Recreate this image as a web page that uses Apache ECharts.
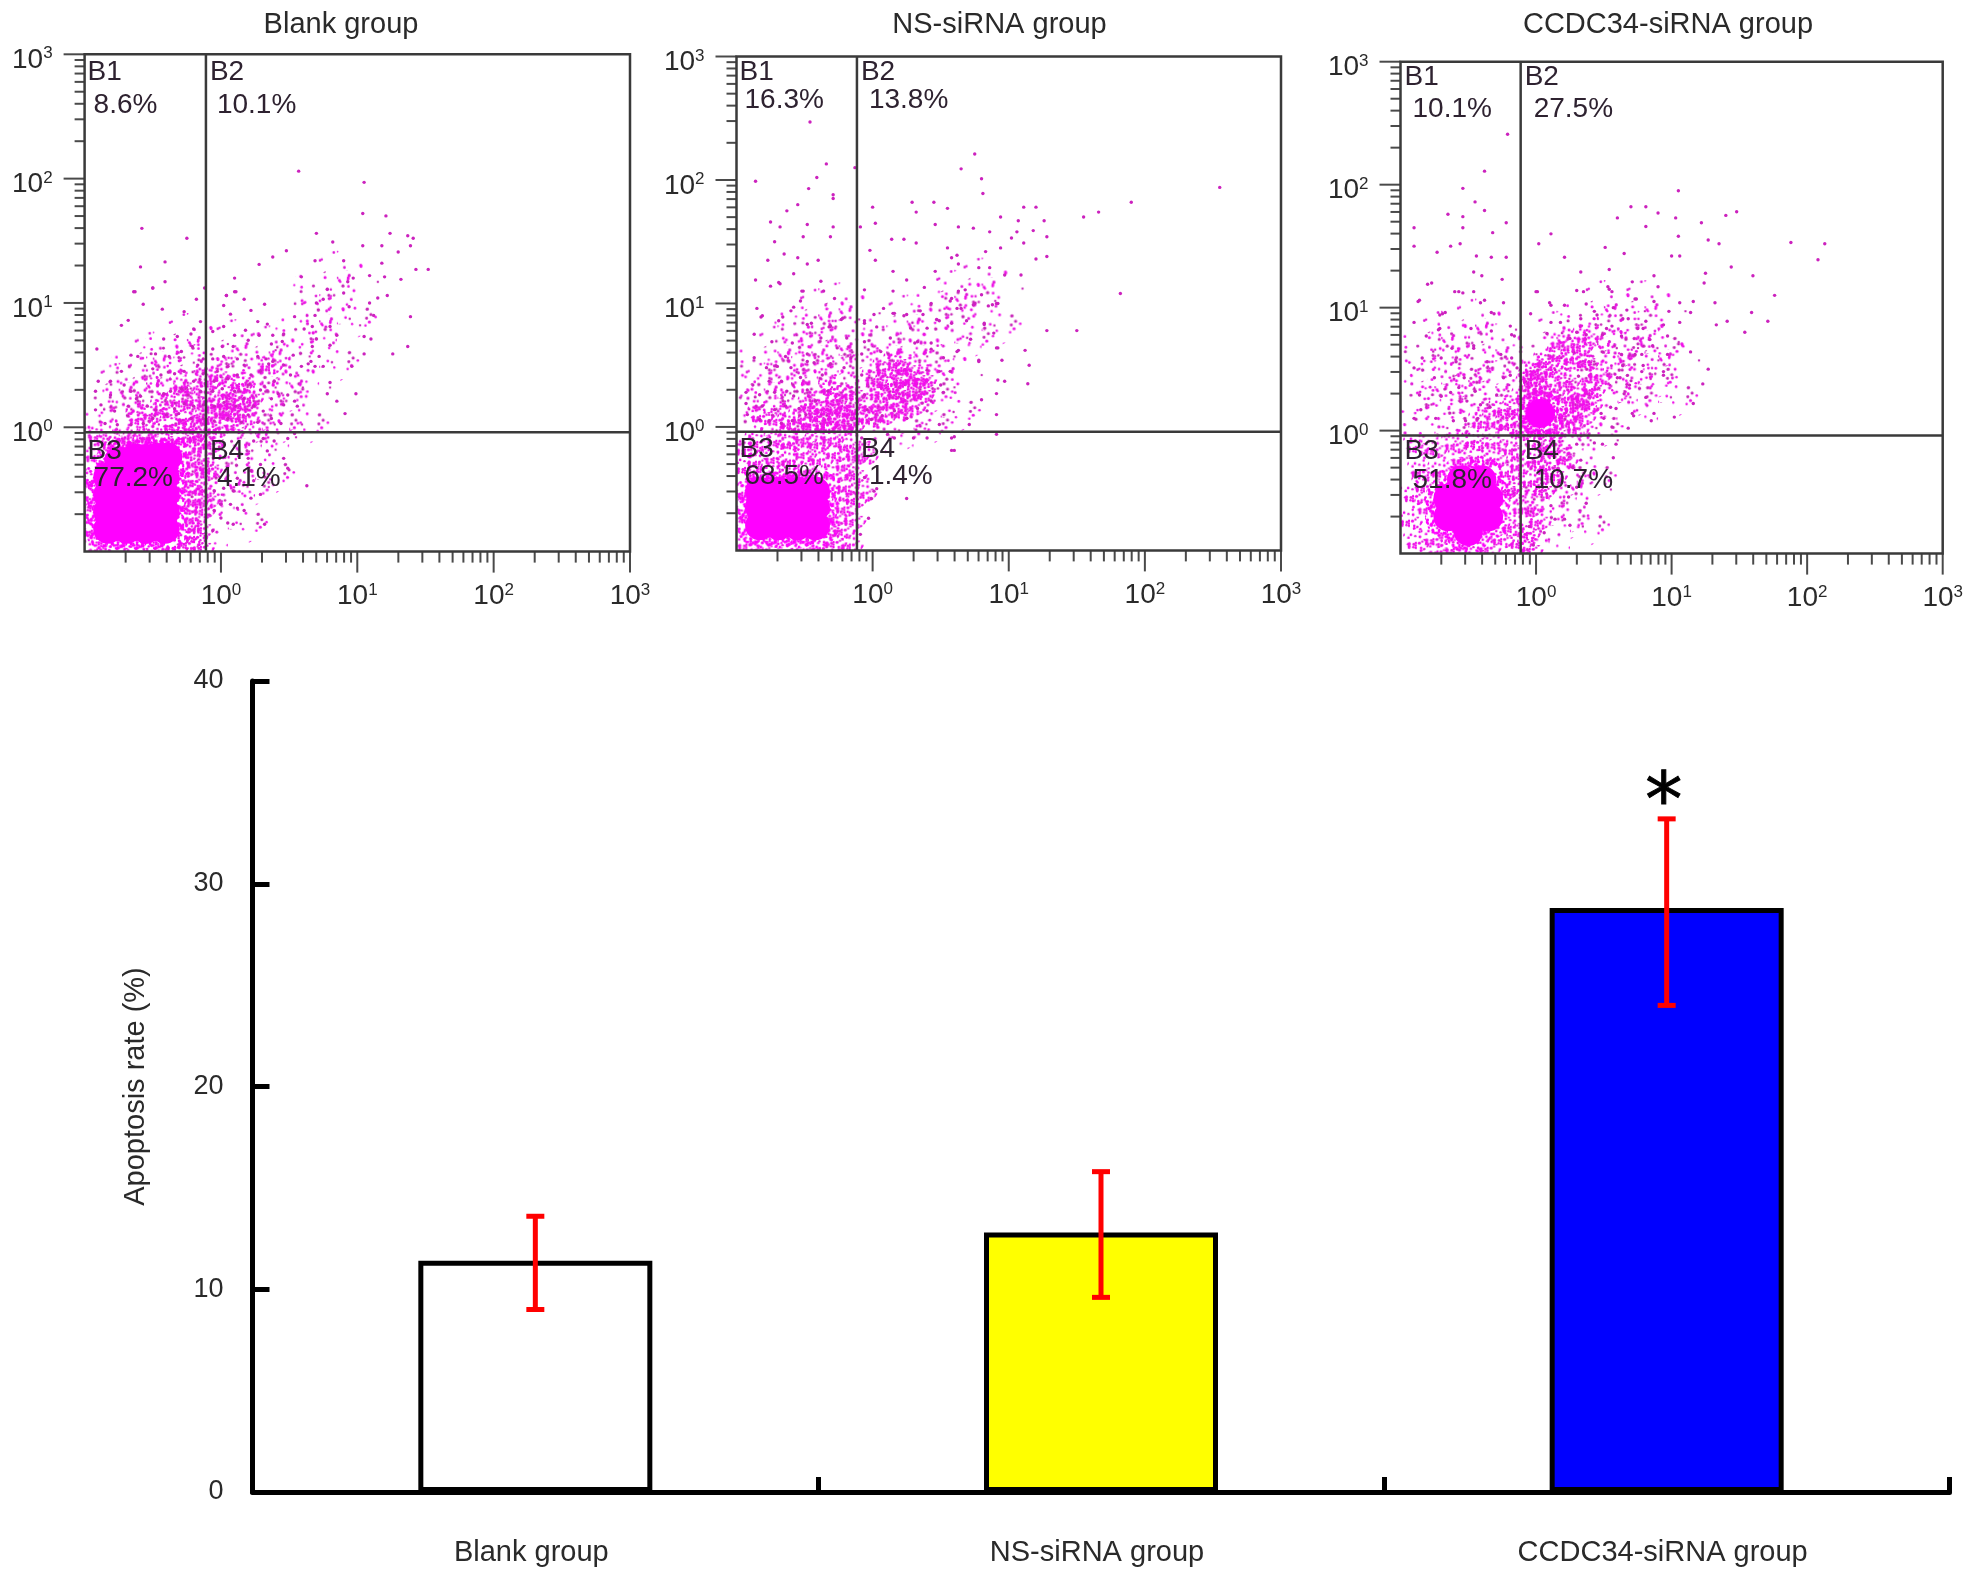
<!DOCTYPE html>
<html><head><meta charset="utf-8">
<style>html,body{margin:0;padding:0;background:#fff}#c{width:1976px;height:1579px}</style>
<script src="https://cdn.jsdelivr.net/npm/echarts@6/dist/echarts.min.js"></script>
</head><body><div id="c"></div>
<script>
// ---------- bar chart data ----------
const barCategories = ['Blank group', 'NS-siRNA group', 'CCDC34-siRNA group'];
const barValues = [11.4, 12.8, 28.8];
const errorLow = [9.0, 9.6, 24.0];
const errorHigh = [13.6, 15.8, 33.2];
const barColors = ['#ffffff', '#ffff00', '#0000ff'];
const barFlags = ['', '', '*'];
const barTicks = [0, 10, 20, 30, 40];

// ---------- flow cytometry panels ----------
const panelTitles = ['Blank group', 'NS-siRNA group', 'CCDC34-siRNA group'];
const quadrantNames = ['B1', 'B2', 'B3', 'B4'];
const blankPercents = ['8.6%', '10.1%', '77.2%', '4.1%'];
const nsPercents = ['16.3%', '13.8%', '68.5%', '1.4%'];
const ccdcPercents = ['10.1%', '27.5%', '51.8%', '10.7%'];
const gateBlank = [0.776, 0.914];
const gateNs = [0.767, 0.912];
const gateCcdc = [0.77, 0.914];
const majorTicks = [1, 10, 100, 1000];
const minorDecades = [0.1, 1, 10, 100];
const minorMultiples = [2, 3, 4, 5, 6, 7, 8, 9];

// positions, as log10 of (FITC, PI): [x, y]
// Core = saturated centres; Dense = heavily populated spots; Haze = moderately populated zones; Sparse = single events
const blankCoreLog = [[-.83,-.82],[-.69,-.82],[-.55,-.82],[-.41,-.82],[-.83,-.68],[-.69,-.68],[-.55,-.68],[-.41,-.68],[-.83,-.54],[-.69,-.54],[-.55,-.54],[-.41,-.54],[-.83,-.4],[-.69,-.4],[-.55,-.4],[-.41,-.4],[-.75,-.27],[-.62,-.25],[-.5,-.25],[-.39,-.24]];
const blankHazeLog = [[-.75,.15],[-.55,.2],[-.35,.2],[-.2,.3],[-.5,.4],[-.25,.55],[.1,.2],[.3,.2],[.1,.5],[.35,.45],[.5,.2],[.1,-.3],[.25,-.2],[.05,-.6],[.72,.7],[.85,1.05]];
const blankDenseLog = [[-.25,-.9],[-.19,-.85],[-.14,-.93],[-.27,-.75],[-.2,-.7],[-.14,-.78],[-.26,-.6],[-.18,-.55],[-.13,-.63],[-.26,-.45],[-.2,-.4],[-.13,-.47],[-.27,-.3],[-.18,-.25],[-.12,-.33],[-.25,-.17],[-.14,-.13],[-.3,-.06],[-.22,-.05],[-.14,-.04],[-.42,-.07],[-.52,-.05],[-.62,-.08],[-.7,-.06],[-.8,-.1],[-.9,-.04],[-.92,-.2],[-.94,-.4],[-.95,-.6],[-.94,-.8],[-.9,-.95],[-.75,-.97],[-.6,-.97],[-.45,-.96],[-.33,-.93],[-.7,-.14],[-.55,-.12],[-.1,-.55],[-.08,-.3],[-.07,-.1],[-.09,.1],[-.1,.25],[-.09,.4],[-.03,.02],[-.04,.2],[.02,.15],[.07,.3],[-.02,.45],[.1,.05],[.14,.38],[.05,.22],[-.25,.1],[-.35,.05],[-.42,.18],[-.2,.25],[-.3,.24],[-.15,.12],[-.5,.14],[-.6,.1],[-.28,.36],[-.2,.02],[.15,.22],[.22,.27],[.19,.12],[.08,.14],[.36,.53]];
const blankSparseLog = [[.57,2.06],[1.05,1.97],[1.04,1.72],[1.21,1.7],[-.58,1.6],[-.25,1.52],[.7,1.56],[.82,1.49],[.48,1.42],[.38,1.37],[.28,1.31],[1.04,1.46],[1.18,1.46],[1.3,1.41],[1.39,1.46],[1.37,1.54],[1.41,1.52],[1.24,1.56],[1.18,1.32],[1.43,1.27],[1.52,1.27],[1.32,1.19],[1.2,1.21],[1.09,1.22],[.97,1.2],[.9,1.34],[.69,1.34],[.59,1.21],[.1,1.2],[-.41,1.33],[-.59,1.29],[-.41,1.17],[-.5,1.12],[-.64,1.09],[-.12,1.12],[.04,1.06],[.1,1.09],[.78,1.11],[.75,1.03],[.7,1],[.9,1.08],[.94,.97],[.93,1.17],[1.09,1],[1.15,1.04],[1.22,1.06],[1.39,.89],[1.12,.9],[1.37,.65],[1.26,.59],[1.05,.73],[1.1,.71],[.69,.9],[.67,.81],[.7,.71],[.67,.65],[.72,.57],[.64,.51],[.75,.49],[.69,.49],[.8,.81],[.85,.74],[.8,.66],[.85,.21],[.91,.11],[.78,.27],[.8,.36],[.99,.27],[1.05,.59],[.96,.49],
[-.63,1.09],[-.57,.99],[-.5,1.12],[-.43,.95],[-.27,.93],[-.18,1.03],[-.73,.82],[-.68,.86],[-.91,.63],[-.66,.58],[-.61,.57],[-.48,.59],[-.38,.57],[-.29,.61],[-.2,.79],[-.15,.85],[-.22,.75],[-.32,.73],[-.42,.71],[-.73,.45],[-.81,.37],[-.9,.37],[-.92,.29],[-.81,.26],[-.71,.34],[-.66,.29],[-.59,.25],[-.5,.47],[-.44,.42],[-.34,.43],[-.27,.45],[-.17,.5],[-.13,.55],[-.13,.43],[-.21,.65],[-.88,.18],[-.92,.14],[-.78,.13],[-.68,.17],[-.62,.23],[-.54,.17],[-.48,.14],[-.42,.27],[-.37,.29],[-.29,.31],[-.24,.26],[-.2,.37],[-.15,.29],[-.34,.15],[-.27,.19],[-.2,.17],[-.13,.18],[-.4,.1],[-.31,.11],[-.22,.07],[-.13,.07],[-.5,.07],[-.57,.03],[-.66,.02],[-.76,.02],[-.85,.03],
[.04,1.06],[.11,1.09],[.02,.98],[.07,.91],[.17,1.03],[.22,.94],[.32,.99],[-.06,.77],[.02,.81],[.1,.74],[.18,.78],[.27,.85],[.34,.83],[.28,.74],[.38,.74],[.46,.75],[.54,.89],[.61,.79],[.45,.69],[.37,.67],[.2,.7],[.01,.65],[.09,.65],[-.06,.63],[-.06,.55],[.02,.57],[.12,.55],[.27,.57],[.33,.55],[.35,.51],[.38,.53],[.46,.5],[.53,.58],[.59,.49],[.05,.49],[.17,.5],[.22,.42],[.29,.45],[.39,.37],[.51,.42],[.66,.53],[.42,.27],[.49,.26],[.54,.21],[.56,.17],[.46,.18],[.37,.23],[.29,.3],[.2,.34],[.12,.42],[.05,.39],[-.05,.37],[-.06,.29],[.01,.31],[.1,.29],[.17,.23],[.24,.17],[.31,.13],[.37,.07],[.44,.03],[.2,.1],[.11,.17],[.05,.07],[-.05,.17],[-.05,.05],[.27,.04],[.15,.04],
[.31,-.09],[.39,-.11],[.49,-.09],[.54,-.05],[.46,-.25],[.34,-.19],[.24,-.11],[.2,-.25],[.29,-.3],[.22,-.35],[.24,-.43],[.12,-.41],[.02,-.49],[-.05,-.51],[.07,-.62],[.12,-.65],[.22,-.57],[.29,-.54],[.63,-.47],[.05,-.77],[.09,-.78],[.32,-.78],[-.05,-.67],[0,-.73],[-.06,-.83],[.49,-.33],[0,-.62],[.17,-.67],[-.01,-.25],[.09,-.51]];

const nsCoreLog = [[-.83,-.8],[-.69,-.8],[-.55,-.8],[-.42,-.8],[-.83,-.65],[-.69,-.65],[-.55,-.65],[-.42,-.65],[-.83,-.52],[-.69,-.52],[-.55,-.52],[-.42,-.52]];
const nsHazeLog = [[-.8,.15],[-.6,.2],[-.4,.2],[-.2,.2],[-.7,.45],[-.45,.45],[-.25,.5],[-.4,.75],[-.25,.8],[.1,.15],[.3,.2],[.1,.45],[.3,.45],[.5,.3],[.25,.7],[.6,.9],[.8,1]];
const nsDenseLog = [[-.3,.1],[-.25,.18],[-.2,.08],[-.28,.25],[-.18,.2],[-.15,.05],[-.14,.3],[-.35,.05],[-.4,.12],[-.45,.05],[-.52,.1],[-.6,.06],[-.7,.09],[-.35,.18],[-.23,.03],[-.13,.14],[-.45,.2],[-.3,.34],[-.82,.12],[.23,.4],[.28,.32],[.18,.3],[.25,.5],[.32,.42],[.12,.38],[.16,.22],[.05,.3],[0,.2],[.08,.12],[.2,.15],[.3,.2],[.36,.3],[.1,.5],[.02,.42],[-.02,.1],[.18,.55],[.38,.42],[-.28,-.9],[-.22,-.8],[-.16,-.92],[-.28,-.7],[-.2,-.62],[-.14,-.72],[-.27,-.5],[-.19,-.45],[-.13,-.55],[-.28,-.35],[-.2,-.28],[-.13,-.35],[-.27,-.18],[-.18,-.12],[-.12,-.2],[-.3,-.06],[-.4,-.1],[-.38,-.23],[-.5,-.06],[-.5,-.18],[-.48,-.32],[-.6,-.1],[-.6,-.24],[-.6,-.36],[-.7,-.08],[-.72,-.22],[-.72,-.34],[-.84,-.09],[-.85,-.25],[-.86,-.38],[-.93,-.15],[-.93,-.3],[-.95,-.5],[-.95,-.7],[-.92,-.92],[-.8,-.96],[-.65,-.98],[-.5,-.96],[-.38,-.95],[-.34,-.8],[-.05,-.2],[-.06,-.5]];
const nsSparseLog = [[2.55,1.94],[1.9,1.82],[1.55,1.7],[1.66,1.74],[1.82,1.08],[1.28,.78],[1.5,.78],[.75,2.21],[.65,2.09],[.8,2.01],[.81,1.89],[-.46,2.47],[-.34,2.13],[-.13,2.1],[-.86,1.99],[-.41,2.02],[-.47,1.93],[-.29,1.88],[-.29,1.85],[-.55,1.8],[-.63,1.75],[-.75,1.66],[-.68,1.62],[-.48,1.64],[-.29,1.62],[-.09,1.62],[-.31,1.54],[-.51,1.54],[.29,1.82],[.32,1.74],[.45,1.82],[.55,1.77],[.46,1.64],[0,1.78],[.02,1.65],[.14,1.52],[.23,1.52],[-.02,1.43],[.32,1.49],[.63,1.62],[.74,1.61],[.94,1.7],[1.07,1.67],[1.11,1.78],[1.2,1.78],[1.26,1.67],[1.28,1.54],[1.18,1.59],[1.06,1.58],[.86,1.58],[1.02,1.53],[1.11,1.49],[.94,1.45],[.83,1.42],[.55,1.45],[.62,1.39],[1.28,1.38],[1.2,1.36],[1.09,1.23],[.97,1.23],[.86,1.29],[.78,1.29],[.63,1.32],[.58,1.37],[.15,1.26],[.02,1.35],[.25,1.19],[.38,1.13],[.15,1.1],[-.06,1.11],[.46,1.26],
[.63,1.1],[.68,1.11],[.58,1.04],[.75,1],[.88,.99],[.92,1],[.65,.96],[.8,1.07],[.82,.83],[.89,.76],[.49,.86],[.37,.91],[.25,.91],[.15,.92],[.03,.81],[-.06,.84],[.58,.84],[.43,1],[.92,.64],[.78,.54],[.95,.54],[1.12,.62],[1.15,.5],[1.14,.35],[.92,.38],[.97,.37],[.8,.22],[.91,.1],[.91,.27],[.63,.62],[.43,.68],[.31,.68],[.71,.02],[.6,-.08],[.6,-.19],[.91,-.06],
[-.86,1.19],[-.77,1.35],[-.72,1.5],[-.65,1.4],[-.55,1.37],[-.48,1.32],[-.4,1.35],[-.58,1.24],[-.38,1.18],[-.51,1.1],[-.68,1.16],[-.75,1.14],[-.85,.96],[-.82,.89],[-.66,.89],[-.58,.97],[-.36,1.1],[-.48,.83],[-.32,.81],[-.22,.88],[-.28,1.04],
[-.52,1.1],[-.53,1.02],[-.69,1.17],[-.81,.9],[-.69,.86],[-.6,.94],[-.45,.84],[-.23,.87],[-.31,.82],[-.38,.72],[-.59,.68],[-.48,.59],[-.48,.53],[-.64,.57],[-.87,.75],[-.74,.69],[-.87,.56],[-.78,.48],[-.7,.49],[-.6,.48],[-.43,.52],[-.26,.64],[-.19,.72],[-.16,.56],[-.21,.48],[-.31,.51],[-.37,.42],[-.53,.4],[-.67,.37],[-.76,.37],[-.88,.34],[-.93,.28],[-.83,.26],[-.72,.28],[-.63,.29],[-.58,.25],[-.48,.3],[-.42,.21],[-.33,.29],[-.93,.19],[-.81,.17],[-.72,.14],[-.64,.17],[-.54,.15],[-.49,.1],[-.92,.1],[-.83,.06],[-.76,.05],[-.67,.03],[-.59,.05],
[-.06,.86],[.01,.91],[.08,.96],[.16,.92],[.23,.9],[.35,.94],[.47,.87],[.57,1.02],[.62,.96],[.74,.99],[.85,.98],[.91,1],[.82,.84],[.69,.86],[.62,.61],[.72,.71],[.91,.64],[.78,.53],[.52,.56],[.49,.45],[.4,.46],[.57,.45],[.5,.34],[.52,.28],[.43,.21],[.4,.13],[.33,.15],[.25,.07],[.49,.02],[.07,.09],[-.01,.06],[.16,.13],[-.04,.14],[-.06,.26],[-.08,.42],[-.08,.59],[-.06,.69],[.06,.61],[.13,.72],[.28,.8],[.4,.8],[.33,.69],[.43,.63],
[.11,-.06],[.16,-.09],[.3,-.09],[.4,-.09],[.58,-.09],[.58,-.19],[.01,-.52],[-.01,-.58],[.03,-.5],[-.03,-.74],[-.09,-.87],[.25,-.58],[-.06,-.41],[-.08,-.09]];

const ccdcCoreLog = [[-.65,-.7],[-.5,-.7],[-.35,-.7],[-.65,-.55],[-.5,-.55],[-.35,-.55],[-.55,-.4],[-.4,-.4],[-.5,-.82],[.03,.14]];
const ccdcHazeLog = [[-.75,.2],[-.5,.25],[-.3,.2],[-.7,.6],[-.45,.7],[-.3,.5],[.15,.6],[.45,.55],[.35,.2],[.6,.45],[.75,.6],[.5,.85],[.8,.85],[.9,.45],[.1,-.2],[.3,-.2],[.1,-.55],[.25,-.6]];
const ccdcDenseLog = [[.08,.59],[.18,.64],[.28,.62],[.37,.59],[.46,.48],[.42,.37],[.33,.27],[.23,.43],[.13,.51],[.33,.72],[.18,.75],[.37,.79],[-.15,.2],[-.1,.1],[-.2,.08],[-.08,.3],[-.25,.2],[-.3,.1],[-.12,.02],[-.4,.1],[-.05,.4],[-.01,.52],[.02,.5],[-.03,.46],[.08,.28],[.14,.2],[.2,.15],[.25,.1],[.16,.05],[.28,.22],[.22,.3],[.12,.35],[.05,.38],[.3,.05],[.35,.15],[.32,.32],[.4,.25],[.01,.34],[-.04,.25],[0,.03],[.08,.03],[-.85,-.3],[-.9,-.5],[-.93,-.7],[-.88,-.88],[-.75,-.85],[-.8,-.6],[-.82,-.42],[-.7,-.3],[-.55,-.2],[-.42,-.18],[-.3,-.2],[-.2,-.3],[-.12,-.25],[-.17,-.12],[-.3,-.07],[-.45,-.06],[-.6,-.08],[-.15,-.45],[-.1,-.6],[-.18,-.75],[-.12,-.88],[-.25,-.85],[-.35,-.92],[-.45,-.97],[-.6,-.93],[-.72,-.95],[-.88,-.1],[-.75,-.12],[-.22,-.45],[0,-.08],[.08,-.1],[.15,-.14],[.22,-.2],[0,-.22],[.08,-.28],[.14,-.33],[-.03,-.38],[.05,-.45],[-.05,-.6],[.02,-.7],[-.06,-.8],[-.04,-.93]];
const ccdcSparseLog = [[-.21,2.41],[-.38,2.11],[-.54,1.97],[-.9,1.65],[-.65,1.76],[-.54,1.74],[-.45,1.86],[-.38,1.79],[-.54,1.65],[-.32,1.61],[-.22,1.69],[-.63,1.5],[-.56,1.52],[-.73,1.45],[-.9,1.5],[-.44,1.42],[-.33,1.41],[-.77,1.2],[-.46,1.29],[-.4,1.26],[-.25,1.23],[-.22,1.41],[-.87,1.05],[-.6,1.13],[-.54,1.12],[-.71,.94],[-.67,.96],[-.71,.83],[-.33,.96],[-.48,.83],[-.19,.85],[-.9,.88],[-.81,.77],[-.46,.69],[-.62,.67],[-.16,.77],[-.33,.81],[-.41,1.04],[-.24,1.04],
[1.05,1.95],[.81,1.82],[.7,1.82],[.9,1.77],[1.03,1.73],[.6,1.73],[1.48,1.78],[1.4,1.75],[1.22,1.69],[1.35,1.52],[1.27,1.55],[1.05,1.58],[.81,1.66],[1.88,1.53],[2.13,1.52],[2.08,1.39],[1.76,1.1],[1.71,.89],[1.59,.96],[1.54,.8],[1.41,.89],[1.33,.86],[1.44,1.33],[1.6,1.26],[1.32,1.04],[1.24,1.2],[1.25,1.28],[1.27,.5],[1.23,.38],[1.16,.22],[1.02,.11],[.87,.14],
[.02,1.52],[.11,1.6],[.21,1.41],[.33,1.29],[.51,1.49],[.65,1.44],[.54,1.31],[.54,1.15],[.35,1.13],[.71,1.21],[.87,1.26],[1.06,1.42],[1,1.42],[0,1.13],[.1,1.04],[.21,1.02],[.33,.91],[.43,.97],[.56,1.13],[.73,1.07],[.9,1.17],[1.06,1.04],[1.16,1.05],[.98,.97],[.81,.89],[.68,.91],[.56,.85],[.3,.8],[.11,.88],[1.14,.96],[1.06,.88],[.97,.77],[.86,.69],[.75,.83],[.63,.77],[.49,.78],[.37,.78],[.97,.62],[.78,.62],[.63,.62],[1.14,.64],[.94,.48],[.78,.48],[.62,.43],[.71,.14],[.59,.18],[.48,.14],[.81,.27],[.65,.3],[.68,.02],[.56,.03],
[.59,-.11],[.57,-.22],[.43,-.1],[.33,-.24],[.37,-.59],[.24,-.54],[.25,-.77],[.14,-.72],[.06,-.83],[.21,-.72],[.17,-.42],[.3,-.46],[.49,-.11],[.3,-.11],[.27,-.3],[.11,-.61],[.05,-.46],[-.05,-.78],[-.02,-.93],
[-.8,1.19],[-.86,1.06],[-.69,.95],[-.72,.82],[-.57,1.13],[-.46,1.13],[-.31,.95],[-.38,1.06],[-.18,.78],[-.46,.67],[-.84,.59],[-.7,.59],[-.59,.56],[-.9,.51],[-.75,.43],[-.57,.35],[-.86,.29],[-.7,.28],[-.85,.17],[-.74,.1],[-.9,.1],[-.63,.31],[-.53,.43],[-.36,.56],[-.26,.62],[-.18,.59],[-.45,.32],[-.51,.24],[-.41,.21],[-.61,.08],[-.52,.08],[-.43,.1],[-.34,.19],[-.29,.29],[-.19,.45],[-.14,.51],[-.24,.43],
[.01,1.13],[.11,1.02],[.3,1.14],[.37,1.03],[.53,1.17],[-.04,.95],[.18,.88],[.45,.94],[.57,1],[.67,.98],[.74,1.07],[.87,1.05],[.94,.86],[.64,.91],[.79,.83],[.84,.74],[.73,.62],[.64,.53],[.79,.53],[.94,.45],[.69,.37],[.55,.19],[.72,.12],[.85,.08],[.5,.1],[.6,.43],[.52,.83],[.08,.79],[.25,.75]];

// ---------- layout & styling ----------
const FONT = '"Liberation Sans", Arial, sans-serif';
const TEXT = '#2a2a2a';
const panels = [
  {box:[84.6,54.3,545.4,497.3], titleX:336, title:panelTitles[0], core:blankCoreLog, haze:blankHazeLog, dense:blankDenseLog, sparse:blankSparseLog, gate:gateBlank, pct:blankPercents, off:{nameX:3,pctX:9,pctX2:11,top1:18,top2:51,low1:19,low2:46}},
  {box:[736.5,56.5,544.5,493.9], titleX:994.5, title:panelTitles[1], core:nsCoreLog, haze:nsHazeLog, dense:nsDenseLog, sparse:nsSparseLog, gate:gateNs, pct:nsPercents, off:{nameX:3,pctX:8,pctX2:12,top1:16,top2:44,low1:17,low2:44}},
  {box:[1400.5,61.7,542.2,491.9], titleX:1663, title:panelTitles[2], core:ccdcCoreLog, haze:ccdcHazeLog, dense:ccdcDenseLog, sparse:ccdcSparseLog, gate:gateCcdc, pct:ccdcPercents, off:{nameX:4,pctX:12,pctX2:13,top1:16,top2:48,low1:16,low2:45}}
];
const AX_MIN = 0.1, AX_MAX = 1000;
const fromLog = pts => pts.map(p => [Math.pow(10,p[0]), Math.pow(10,p[1])]);

// stipple textures for populated zones (appearance only, deterministic)
function stipple(count, seed, colors) {
  const size = 96, cv = document.createElement('canvas');
  cv.width = cv.height = size;
  const g = cv.getContext('2d');
  const frac = v => v - Math.floor(v);
  for (let k = 1; k <= count; k++) {
    const n = k + seed;
    const px = frac(n * 0.7548776662 + 0.17 * Math.sin(n * 12.9898)) * size;
    const py = frac(n * 0.5698402910 + 0.17 * Math.sin(n * 78.233)) * size;
    g.fillStyle = colors[k % colors.length];
    g.beginPath(); g.arc(px, py, 1.15 + 0.45 * frac(n * 0.381), 0, 6.2832); g.fill();
  }
  return {image: cv, repeat: 'repeat'};
}
const DOTS = ['#f010e8', '#e018d8', '#f010e8', '#c824b8'];
const hazeOuter = stipple(60, 0, DOTS);
const hazeInner = stipple(60, 500, DOTS);
const denseFill = stipple(300, 1000, ['#f40cee', '#f40cee', '#e818e0']);
const haloFill = stipple(620, 2000, ['#ff00ff']);

const tickRows = [];
majorTicks.forEach(v => { tickRows.push([v, 1, 0]); tickRows.push([v, 1, 1]); });
minorDecades.forEach(d => minorMultiples.forEach(m => { tickRows.push([d*m, 0, 0]); tickRows.push([d*m, 0, 1]); }));

const logLabel = v => {
  const e = Math.round(Math.log10(v));
  return e < 0 ? '' : '{b|10}{s|' + e + '}';
};
const labelRich = { b:{fontSize:28, fontFamily:FONT, color:TEXT, lineHeight:30}, s:{fontSize:17, fontFamily:FONT, color:TEXT, verticalAlign:'top', lineHeight:17} };

const patchSeries = (base, name, data, diameter, fill, z) => Object.assign({}, base, {
  type:'custom', name:name, z:z, clip:true, data:fromLog(data), renderItem:(params, api) => {
    const c = api.coord([api.value(0), api.value(1)]);
    return {type:'circle', x:c[0], y:c[1], shape:{cx:0, cy:0, r:diameter/2}, style:{fill:fill}};
  }});

const grids = [], xAxes = [], yAxes = [], series = [], titles = [];
panels.forEach((p, i) => {
  grids.push({left:p.box[0], top:p.box[1], width:p.box[2], height:p.box[3]});
  xAxes.push({gridIndex:i, type:'log', logBase:10, min:AX_MIN, max:AX_MAX, splitNumber:4, axisLine:{show:false}, axisTick:{show:false}, splitLine:{show:false},
    axisLabel:{margin:30, formatter:logLabel, rich:labelRich, showMinLabel:true, hideOverlap:false}});
  yAxes.push({gridIndex:i, type:'log', logBase:10, min:AX_MIN, max:AX_MAX, splitNumber:4, axisLine:{show:false}, axisTick:{show:false}, splitLine:{show:false},
    axisLabel:{margin:32, padding:[12,0,0,0], formatter:logLabel, rich:labelRich, showMinLabel:true, hideOverlap:false}});
  titles.push({text:p.title, left:p.titleX, top:5, textAlign:'center', textStyle:{fontFamily:FONT, fontSize:29, fontWeight:'normal', color:TEXT}});
  const base = {xAxisIndex:i, yAxisIndex:i, silent:true, animation:false};
  series.push(patchSeries(base, 'hazeOuter'+i, p.haze, 92, hazeOuter, 1));
  series.push(patchSeries(base, 'hazeInner'+i, p.haze, 56, hazeInner, 1));
  series.push(patchSeries(base, 'dense'+i, p.dense, 28, denseFill, 2));
  series.push(patchSeries(base, 'halo'+i, p.core, 46, haloFill, 2));
  series.push(Object.assign({}, base, {type:'scatter', name:'core'+i, data:fromLog(p.core), symbolSize:29, itemStyle:{color:'#ff00ff', opacity:1}, z:3}));
  series.push(Object.assign({}, base, {type:'scatter', name:'sparse'+i, data:fromLog(p.sparse), symbolSize:3.4, itemStyle:{color:'#cc22be', opacity:1}, z:4}));
  // ticks outside the frame
  series.push(Object.assign({}, base, {type:'custom', name:'ticks'+i, z:5, data:tickRows, renderItem:(params, api) => {
    const v = api.value(0), major = api.value(1), isY = api.value(2);
    const len = major ? 21 : (isY ? 10 : 11);
    const pt = isY ? api.coord([AX_MIN, v]) : api.coord([v, AX_MIN]);
    return {type:'line', shape: isY ? {x1:pt[0], y1:pt[1], x2:pt[0]-len, y2:pt[1]} : {x1:pt[0], y1:pt[1], x2:pt[0], y2:pt[1]+len},
      style:{stroke:'#4a4a4a', lineWidth:2}};
  }}));
  // frame and quadrant gates
  series.push(Object.assign({}, base, {type:'custom', name:'gate'+i, z:6, data:[p.gate], renderItem:(params, api) => {
    const g = [api.value(0), api.value(1)];
    const lt = api.coord([AX_MIN, AX_MAX]), rb = api.coord([AX_MAX, AX_MIN]), c = api.coord(g);
    const st = {stroke:'#3a3a3a', lineWidth:2.5, fill:null};
    return {type:'group', children:[
      {type:'rect', shape:{x:lt[0], y:lt[1], width:rb[0]-lt[0], height:rb[1]-lt[1]}, style:st},
      {type:'line', shape:{x1:c[0], y1:lt[1], x2:c[0], y2:rb[1]}, style:st},
      {type:'line', shape:{x1:lt[0], y1:c[1], x2:rb[0], y2:c[1]}, style:st}
    ]};
  }}));
  // quadrant labels
  series.push(Object.assign({}, base, {type:'custom', name:'labels'+i, z:7, data:quadrantNames.map((n, q) => [q]), renderItem:(params, api) => {
    const q = api.value(0), o = p.off;
    const lt = api.coord([AX_MIN, AX_MAX]), c = api.coord(p.gate);
    const left = q % 2 === 0, upper = q < 2;
    const ax = left ? lt[0] : c[0], ay = upper ? lt[1] : c[1];
    const ts = {fill:'#2e2230', fontSize:28, fontFamily:FONT, align:'left', verticalAlign:'middle'};
    return {type:'group', children:[
      {type:'text', style:Object.assign({}, ts, {text:quadrantNames[q], x:ax+(left?o.nameX:4), y:ay+(upper?o.top1:o.low1)})},
      {type:'text', style:Object.assign({}, ts, {text:p.pct[q], x:ax+(left?o.pctX:o.pctX2), y:ay+(upper?o.top2:o.low2)})}
    ]};
  }}));
});

// bar chart
const bi = panels.length;
grids.push({left:252.5, top:681, width:1697, height:811});
xAxes.push({gridIndex:bi, type:'category', data:barCategories,
  axisLine:{lineStyle:{color:'#000', width:5}}, axisTick:{show:true, inside:true, length:15, lineStyle:{color:'#000', width:5}},
  axisLabel:{margin:46, padding:[0,8,0,0], fontSize:29, fontFamily:FONT, color:TEXT}, splitLine:{show:false}});
yAxes.push({gridIndex:bi, type:'value', min:barTicks[0], max:barTicks[barTicks.length-1], interval:10,
  name:'Apoptosis rate (%)', nameLocation:'middle', nameRotate:90, nameGap:102, nameTextStyle:{fontSize:29, fontFamily:FONT, color:TEXT},
  axisLine:{show:true, lineStyle:{color:'#000', width:5}}, axisTick:{show:true, inside:true, length:17, lineStyle:{color:'#000', width:5}},
  axisLabel:{margin:29, padding:[4,0,0,0], fontSize:27, fontFamily:FONT, color:TEXT}, splitLine:{show:false}});
series.push({type:'bar', name:'Apoptosis rate', xAxisIndex:bi, yAxisIndex:bi, barWidth:234, animation:false, silent:true, z:2,
  data:barValues.map((v,i) => ({value:v, itemStyle:{color:barColors[i], borderColor:'#000', borderWidth:5}}))});
series.push({type:'custom', name:'Error', xAxisIndex:bi, yAxisIndex:bi, animation:false, silent:true, z:8,
  data:barCategories.map((c,i) => [i, errorLow[i], errorHigh[i]]), encode:{x:0, y:[1,2]}, renderItem:(params, api) => {
    const i = api.value(0), a = api.coord([i, api.value(1)]), b = api.coord([i, api.value(2)]);
    const st = {stroke:'#ff0000', lineWidth:5, fill:null};
    const kids = [
      {type:'line', shape:{x1:a[0], y1:a[1], x2:b[0], y2:b[1]}, style:st},
      {type:'line', shape:{x1:a[0]-9, y1:a[1], x2:a[0]+9, y2:a[1]}, style:st},
      {type:'line', shape:{x1:b[0]-9, y1:b[1], x2:b[0]+9, y2:b[1]}, style:st}
    ];
    if (barFlags[i]) kids.push({type:'text', style:{text:barFlags[i], x:b[0]-3, y:b[1]-13, fill:'#000', stroke:'#000', lineWidth:1, fontSize:74, fontFamily:'"DejaVu Sans"', align:'center', verticalAlign:'middle'}});
    return {type:'group', children:kids};
  }});

const chart = echarts.init(document.getElementById('c'), null, {renderer:'canvas', width:1976, height:1579});
chart.setOption({backgroundColor:'#fff', animation:false, title:titles, grid:grids, xAxis:xAxes, yAxis:yAxes, series:series});
</script></body></html>
